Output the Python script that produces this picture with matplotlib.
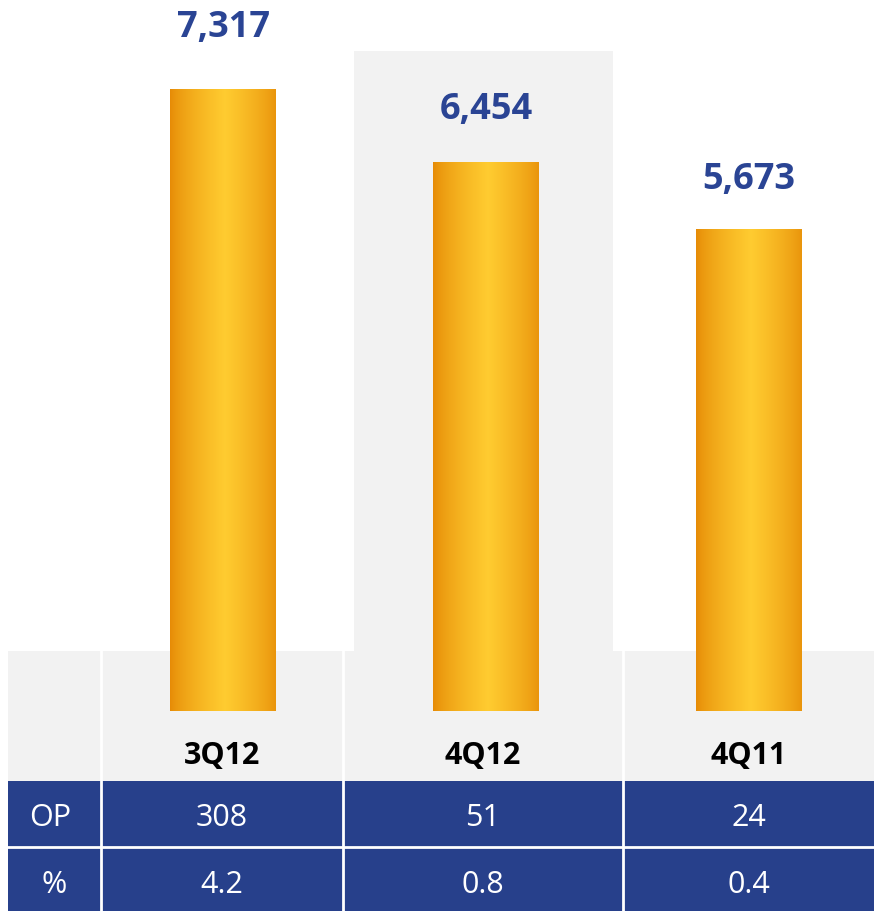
import numpy as np
import matplotlib
matplotlib.use("Agg")
import matplotlib.pyplot as plt
from matplotlib.patches import Rectangle

plt.rcParams['font.family'] = ['Open Sans', 'DejaVu Sans']

# data
quarters = ["3Q12", "4Q12", "4Q11"]
sales = [7317, 6454, 5673]
op_values = ["308", "51", "24"]
op_margin = ["4.2", "0.8", "0.4"]
row_names = ["OP", "%"]

W, H = 874, 912
fig = plt.figure(figsize=(W / 100, H / 100), dpi=100)

# background layer in pixel coordinates
bg = fig.add_axes([0, 0, 1, 1])
bg.set_xlim(0, W)
bg.set_ylim(H, 0)
bg.axis('off')

gray = "#f2f2f2"
blue = "#27408b"
# highlight panel behind the middle quarter + table header band
bg.add_patch(Rectangle((354, 52), 259, 602, color=gray, lw=0))
bg.add_patch(Rectangle((8, 652), W - 8, 130, color=gray, lw=0))
bg.add_patch(Rectangle((8, 782), W - 8, 130, color=blue, lw=0))
# white grid lines
for x in [101, 343, 623]:
    bg.plot([x, x], [652, H], color="white", lw=2)
bg.plot([8, W], [848.5, 848.5], color="white", lw=2)

# table text
col_centers = [222, 483, 749]
for i, q in enumerate(quarters):
    bg.text(col_centers[i], 756, q, ha='center', va='center',
            fontsize=22, fontweight='bold', color='black')
    bg.text(col_centers[i], 818, op_values[i], ha='center', va='center',
            fontsize=22, color='white')
    bg.text(col_centers[i], 885, op_margin[i], ha='center', va='center',
            fontsize=22, color='white')
bg.text(50, 818, row_names[0], ha='center', va='center', fontsize=22, color='white')
bg.text(54, 885, row_names[1], ha='center', va='center', fontsize=22, color='white')

# bar layer: bottom at pixel 712
ax = fig.add_axes([0, (H - 712) / H, 1, 712 / H])
ax.patch.set_alpha(0)
ax.axis('off')
spacing = 263
ax.set_xlim(-223 / spacing, (W - 223) / spacing)
ymax = sales[0] * 712 / 622
ax.set_ylim(0, ymax)

x = np.arange(len(quarters))
bars = ax.bar(x, sales, width=106 / spacing, color='none', lw=0)

# horizontal gradient: orange edges, yellow centre
t = np.linspace(0, 1, 256)
w = 1 - np.abs(t - 0.52) / 0.52
w = np.clip(w, 0, 1) ** 0.7
edge = np.array([0.90, 0.54, 0.02])
mid = np.array([1.0, 0.80, 0.19])
grad = edge[None, :] * (1 - w[:, None]) + mid[None, :] * w[:, None]
grad = grad[None, :, :]
for b in bars:
    x0, y0 = b.get_x(), b.get_y()
    im = ax.imshow(grad, extent=[x0, x0 + b.get_width(), y0, y0 + b.get_height()],
                   aspect='auto', zorder=2)
    im.set_clip_path(b)

gaps = [62, 53, 50]
for b, v, g in zip(bars, sales, gaps):
    ax.annotate(f"{v:,}", (b.get_x() + b.get_width() / 2, b.get_height()),
                xytext=(0, g * 72 / 100), textcoords='offset points',
                ha='center', va='center', fontsize=26, fontweight='bold',
                color="#2a4494")

fig.savefig("out.png", dpi=100)
